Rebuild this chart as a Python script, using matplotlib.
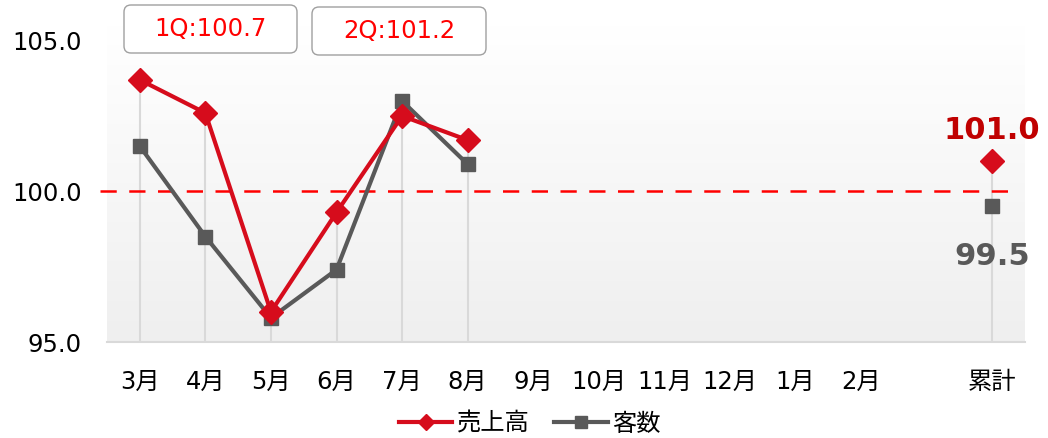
import numpy as np
import matplotlib
matplotlib.use('Agg')
import matplotlib.pyplot as plt
from matplotlib.patches import FancyBboxPatch
from matplotlib.transforms import IdentityTransform
from matplotlib.lines import Line2D

plt.rcParams['font.family'] = ['DejaVu Sans', 'Noto Sans CJK JP']

# ---- data ----
months = ['3月', '4月', '5月', '6月', '7月', '8月', '9月', '10月', '11月', '12月', '1月', '2月']
total_label = '累計'
sales = [103.7, 102.6, 96.0, 99.3, 102.5, 101.7]
customers = [101.5, 98.5, 95.8, 97.4, 103.0, 100.9]
sales_total = 101.0
customers_total = 99.5
quarter_labels = ['1Q:100.7', '2Q:101.2']
series_names = ['売上高', '客数']
baseline = 100.0
yticks = [95.0, 100.0, 105.0]

# ---- style ----
RED = '#d60c1c'
GRAY = '#595959'
FS = 17.5
W, H = 1048, 438
fig = plt.figure(figsize=(W / 100, H / 100), dpi=100)
ax = fig.add_axes([107 / W, 96 / H, 918 / W, 316.4 / H])

ymin, ymax = 95.0, 105.5
n = len(months)
x_months = np.arange(n)
x_total = n + 1
ax.set_xlim(-0.5, x_total + 0.5)
ax.set_ylim(ymin, ymax)

# gradient background
grad = np.linspace(1.0, 0.0, 256).reshape(-1, 1)
top = np.array([1.0, 1.0, 1.0])
bot = np.array([0.937, 0.937, 0.937])
img = top[None, None, :] * grad[:, :, None] + bot[None, None, :] * (1 - grad[:, :, None])
ax.imshow(img, extent=[-0.5, x_total + 0.5, ymin, ymax], aspect='auto', zorder=0, origin='upper')

# drop lines
xs = x_months[:len(sales)]
tops = np.maximum(sales, customers)
ax.vlines(xs, ymin, tops, color='#d9d9d9', lw=1.5, zorder=1)
ax.vlines([x_total], ymin, max(sales_total, customers_total), color='#d9d9d9', lw=1.5, zorder=1)

# baseline
ax.plot([-0.6, x_total + 0.25], [baseline, baseline], color='#ff0000', lw=1.8,
        linestyle=(0, (6.5, 5)), zorder=2, clip_on=False)

# series
ax.plot(xs, customers, color=GRAY, lw=3, marker='s', ms=10.5, zorder=3)
ax.plot(xs, sales, color=RED, lw=3, marker='D', ms=12.5, zorder=4)
ax.plot([x_total], [customers_total], color=GRAY, marker='s', ms=10.5, ls='none', zorder=3)
ax.plot([x_total], [sales_total], color=RED, marker='D', ms=12.5, ls='none', zorder=4)

ax.annotate(f'{sales_total:.1f}', (x_total, sales_total), xytext=(0, 22), textcoords='offset points',
            ha='center', va='center', fontsize=22, fontweight='bold', color='#c00000')
ax.annotate(f'{customers_total:.1f}', (x_total, customers_total), xytext=(0, -36), textcoords='offset points',
            ha='center', va='center', fontsize=22, fontweight='bold', color=GRAY)

# axes styling
ax.set_xticks(list(x_months) + [x_total])
ax.set_xticklabels(months + [total_label], fontsize=FS)
ax.set_yticks(yticks)
ax.set_yticklabels([f'{v:.1f}' for v in yticks], fontsize=FS)
ax.tick_params(axis='both', length=0, colors='black')
ax.tick_params(axis='x', pad=20)
ax.tick_params(axis='y', pad=18)
for s in ['top', 'right', 'left']:
    ax.spines[s].set_visible(False)
ax.spines['bottom'].set_color('#d9d9d9')
ax.spines['bottom'].set_linewidth(1.5)

# quarter boxes (pixel coordinates)
boxes = [(124, 385, 173, 48), (312, 383, 174, 48)]
for (bx, by, bw, bh), lab in zip(boxes, quarter_labels):
    p = FancyBboxPatch((bx, by), bw, bh, boxstyle='round,pad=0,rounding_size=7',
                       transform=IdentityTransform(), facecolor='white', edgecolor='#a0a0a0', lw=1)
    fig.patches.append(p)
    fig.text((bx + bw / 2) / W, (by + bh / 2) / H, lab, ha='center', va='center',
             fontsize=FS, color='#ff0000')

# legend
handles = [Line2D([], [], color=RED, lw=3, marker='D', ms=8),
           Line2D([], [], color=GRAY, lw=3, marker='s', ms=8)]
fig.legend(handles, series_names, loc='center', bbox_to_anchor=(530 / W, 14 / H), ncol=2,
           frameon=False, fontsize=FS, handlelength=2.2, handletextpad=0.2, columnspacing=1.0)

fig.savefig('out.png', dpi=100)
